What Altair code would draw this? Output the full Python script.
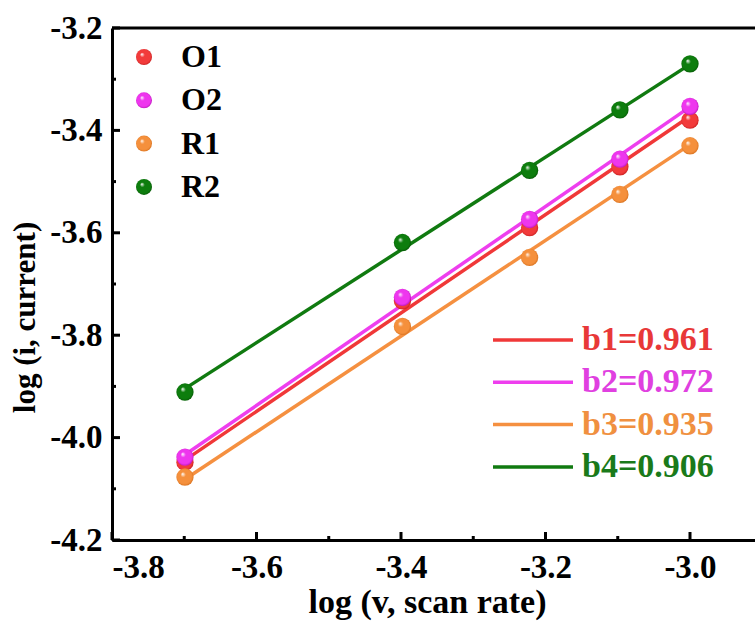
import altair as alt
import pandas as pd

# log of scan rate (V/s) and log of peak current for each redox peak
log_v = [-3.699, -3.398, -3.222, -3.097, -3.000]
series = ["O1", "O2", "R1", "R2"]
log_i_o1 = [-4.048, -3.733, -3.590, -3.471, -3.380]
log_i_o2 = [-4.038, -3.726, -3.574, -3.456, -3.353]
log_i_r1 = [-4.077, -3.783, -3.648, -3.525, -3.430]
log_i_r2 = [-3.911, -3.619, -3.478, -3.360, -3.270]
b_values = [0.961, 0.972, 0.935, 0.906]

# axis tick positions
x_major = [-3.8, -3.6, -3.4, -3.2, -3.0]
x_minor = [-3.7, -3.5, -3.3, -3.1]
y_major = [-4.2, -4.0, -3.8, -3.6, -3.4, -3.2]
y_minor = [-4.1, -3.9, -3.7, -3.5, -3.3]

# colours: marker base, marker shade, line, label text
base_colors = ["#f23b3b", "#ee36ee", "#f5903c", "#0d7d0d"]
dark_colors = ["#b81616", "#a80ca8", "#cc6614", "#034a03"]
line_colors = ["#f03838", "#ee3eee", "#f59040", "#107a10"]
text_colors = ["#e83838", "#e040e0", "#f09040", "#1a7a1a"]

W, H = 643, 512
FONT = "Liberation Serif"

ys = [log_i_o1, log_i_o2, log_i_r1, log_i_r2]
pts = pd.DataFrame(
    [{"series": s, "x": xv, "y": yv} for s, col in zip(series, ys) for xv, yv in zip(log_v, col)]
)

# fitted lines with the stated slope b, through each series' centroid
fit_rows = []
for s, col, b in zip(series, ys, b_values):
    xm = sum(log_v) / len(log_v)
    ym = sum(col) / len(col)
    for xv in (min(log_v), max(log_v)):
        fit_rows.append({"series": s, "x": xv, "y": ym + b * (xv - xm)})
fit = pd.DataFrame(fit_rows)

xscale = alt.Scale(domain=[-3.8, -3.8 + 0.8 * W / 578], nice=False, zero=False)
yscale = alt.Scale(domain=[-4.2, -3.2], nice=False, zero=False)

# plain hyphen-minus in tick labels
label_expr = "replace(format(datum.value, '.1f'), '\u2212', '-')"

xaxis = alt.Axis(
    values=x_major, labelExpr=label_expr, ticks=False, tickSize=0, labelPadding=11,
    title="log (v, scan rate)", titleX=315, titleY=72, titleBaseline="alphabetic",
    titleAnchor="start", titleAlign="center", titleFontSize=34,
)
yaxis = alt.Axis(
    values=y_major, labelExpr=label_expr, ticks=False, tickSize=0, labelPadding=10,
    title="log (i, current)", titleX=-87, titleY=289, titleAngle=-90,
    titleBaseline="middle", titleAlign="center", titleAnchor="start", titleFontSize=31,
)


def X(field):
    return alt.X(field, type="quantitative", scale=xscale, axis=xaxis)


def Y(field):
    return alt.Y(field, type="quantitative", scale=yscale, axis=yaxis)


def sphere(base, dark):
    return {
        "gradient": "radial",
        "x1": 0.36, "y1": 0.32, "r1": 0.0,
        "x2": 0.5, "y2": 0.5, "r2": 0.55,
        "stops": [
            {"offset": 0.0, "color": "#ffffff"},
            {"offset": 0.28, "color": base},
            {"offset": 0.78, "color": base},
            {"offset": 1.0, "color": dark},
        ],
    }


layers = []

# fit lines
layers.append(
    alt.Chart(fit).mark_line(strokeWidth=3.5).encode(
        x=X("x"), y=Y("y"),
        color=alt.Color("series:N", scale=alt.Scale(domain=series, range=line_colors), legend=None),
        detail="series:N",
    )
)

# data points as shaded spheres
for s, bc, dc in zip(series, base_colors, dark_colors):
    layers.append(
        alt.Chart(pts).transform_filter(alt.datum.series == s)
        .mark_circle(size=300, opacity=1, fill=sphere(bc, dc))
        .encode(x=X("x"), y=Y("y"))
    )

# inward ticks on the bottom and left axes
one = pd.DataFrame({"k": [0]})
layers.append(alt.Chart(pd.DataFrame({"t": x_major})).mark_rule(color="black", strokeWidth=3).encode(
    x=X("t"), y=alt.value(H - 8), y2=alt.value(H)))
layers.append(alt.Chart(pd.DataFrame({"t": x_minor})).mark_rule(color="black", strokeWidth=3).encode(
    x=X("t"), y=alt.value(H - 4), y2=alt.value(H)))
layers.append(alt.Chart(pd.DataFrame({"t": y_major})).mark_rule(color="black", strokeWidth=3).encode(
    y=Y("t"), x=alt.value(0), x2=alt.value(8)))
layers.append(alt.Chart(pd.DataFrame({"t": y_minor})).mark_rule(color="black", strokeWidth=3).encode(
    y=Y("t"), x=alt.value(0), x2=alt.value(4)))

# top frame line
layers.append(alt.Chart(one).mark_rule(color="black", strokeWidth=3).encode(
    x=alt.value(0), x2=alt.value(W), y=alt.value(0)))

# marker key (top left)
for i, (s, bc, dc) in enumerate(zip(series, base_colors, dark_colors)):
    yy = 29 + 43.3 * i
    layers.append(alt.Chart(one).mark_circle(size=256, opacity=1, fill=sphere(bc, dc)).encode(
        x=alt.value(32), y=alt.value(yy)))
    layers.append(alt.Chart(one).mark_text(
        align="left", baseline="middle", font=FONT, fontWeight="bold", fontSize=32, color="black"
    ).encode(x=alt.value(69), y=alt.value(yy), text=alt.value(s)))

# slope key (lower right)
for i, (b, lc, tc) in enumerate(zip(b_values, line_colors, text_colors)):
    yy = 312 + 42.3 * i
    layers.append(alt.Chart(one).mark_rule(color=lc, strokeWidth=3.5).encode(
        x=alt.value(381), x2=alt.value(461), y=alt.value(yy)))
    layers.append(alt.Chart(one).mark_text(
        align="left", baseline="middle", font=FONT, fontWeight="bold", fontSize=34, color=tc
    ).encode(x=alt.value(470), y=alt.value(yy), text=alt.value(f"b{i + 1}={b:.3f}")))

chart = alt.layer(*layers).properties(
    width=W, height=H,
    autosize=alt.AutoSizeParams(type="none"),
    padding={"left": 112, "top": 28, "right": 0, "bottom": 82},
).configure_view(stroke=None).configure_axis(
    grid=False, domainColor="black", domainWidth=3,
    labelFont=FONT, labelFontWeight="bold", labelFontSize=33, labelColor="black",
    titleFont=FONT, titleFontWeight="bold", titleColor="black",
)

chart.save("out.html", embed_options={"renderer": "svg", "actions": False})
